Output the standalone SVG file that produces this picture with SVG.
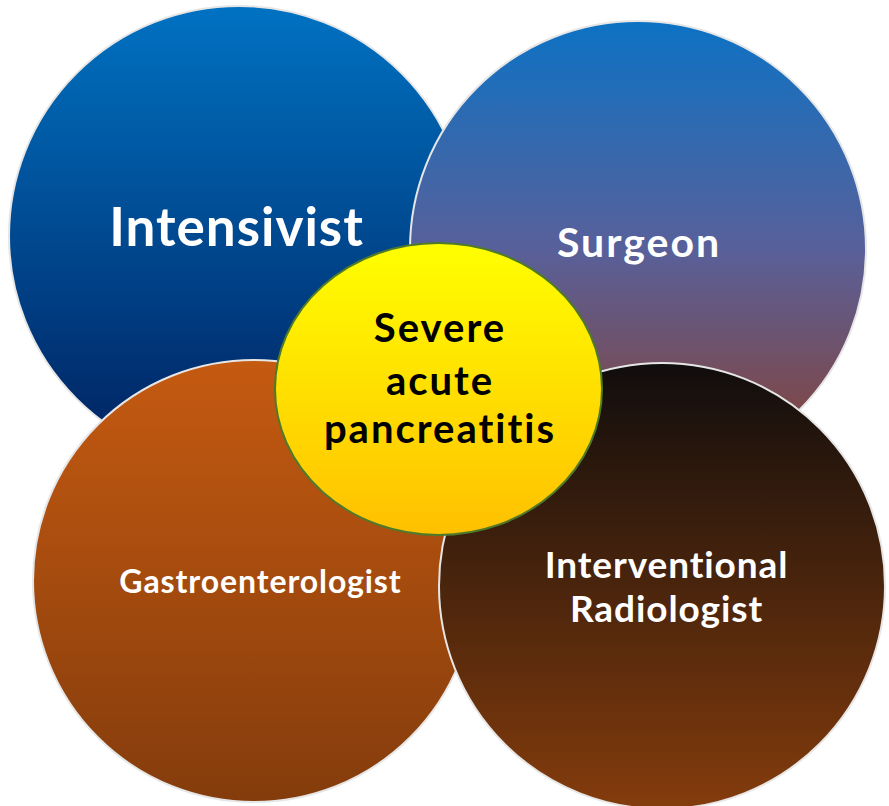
<svg xmlns="http://www.w3.org/2000/svg" width="889" height="806" viewBox="0 0 889 806">
<defs>
<linearGradient id="gInt" x1="0" y1="0" x2="0" y2="1"><stop offset="0" stop-color="#0072c2"/><stop offset="1" stop-color="#00205e"/></linearGradient>
<linearGradient id="gSur" x1="0" y1="0" x2="0" y2="1"><stop offset="0" stop-color="#0c72c4"/><stop offset="0.5" stop-color="#58609a"/><stop offset="1" stop-color="#8c3f2c"/></linearGradient>
<linearGradient id="gGas" x1="0" y1="0" x2="0" y2="1"><stop offset="0" stop-color="#c55a11"/><stop offset="1" stop-color="#843c0c"/></linearGradient>
<linearGradient id="gRad" x1="0" y1="0" x2="0" y2="1"><stop offset="0" stop-color="#100d0d"/><stop offset="1" stop-color="#843c0c"/></linearGradient>
<linearGradient id="gCen" x1="0" y1="0" x2="0" y2="1"><stop offset="0" stop-color="#ffff00"/><stop offset="1" stop-color="#ffc000"/></linearGradient>
</defs>
<style>
.c{stroke:#e6e6e6;stroke-width:2}
.w{fill:#ffffff;font-family:Lato,"Open Sans",sans-serif;font-weight:bold;text-anchor:middle}
.k{fill:#000000;font-family:Lato,"Open Sans",sans-serif;font-weight:bold;text-anchor:middle;font-size:40px;letter-spacing:2px}
</style>
<rect width="889" height="806" fill="#ffffff"/>
<g id="intensivist">
<circle class="c" cx="239" cy="236" r="230" fill="url(#gInt)"/>
<text class="w" x="236.5" y="246" font-size="53" letter-spacing="1">Intensivist</text>
</g>
<g id="surgeon">
<circle class="c" cx="638" cy="249" r="228" fill="url(#gSur)"/>
<text class="w" x="639" y="257" font-size="41" letter-spacing="2">Surgeon</text>
</g>
<g id="gastroenterologist">
<circle class="c" cx="254" cy="581" r="221" fill="url(#gGas)"/>
<text class="w" x="260.5" y="593" font-size="32" letter-spacing="0.9">Gastroenterologist</text>
</g>
<g id="radiologist">
<circle class="c" cx="662" cy="586" r="223" fill="url(#gRad)"/>
<text class="w" x="666.5" y="578" font-size="37" letter-spacing="0.9">Interventional</text>
<text class="w" x="666.5" y="622" font-size="37" letter-spacing="0.9">Radiologist</text>
</g>
<g id="center">
<ellipse cx="438.5" cy="389" rx="163.5" ry="146" fill="url(#gCen)" stroke="#4e7a2a" stroke-width="2"/>
<text class="k" x="440" y="342">Severe</text>
<text class="k" x="440" y="395">acute</text>
<text class="k" x="440" y="443">pancreatitis</text>
</g>
<g id="connectors"/>
</svg>
